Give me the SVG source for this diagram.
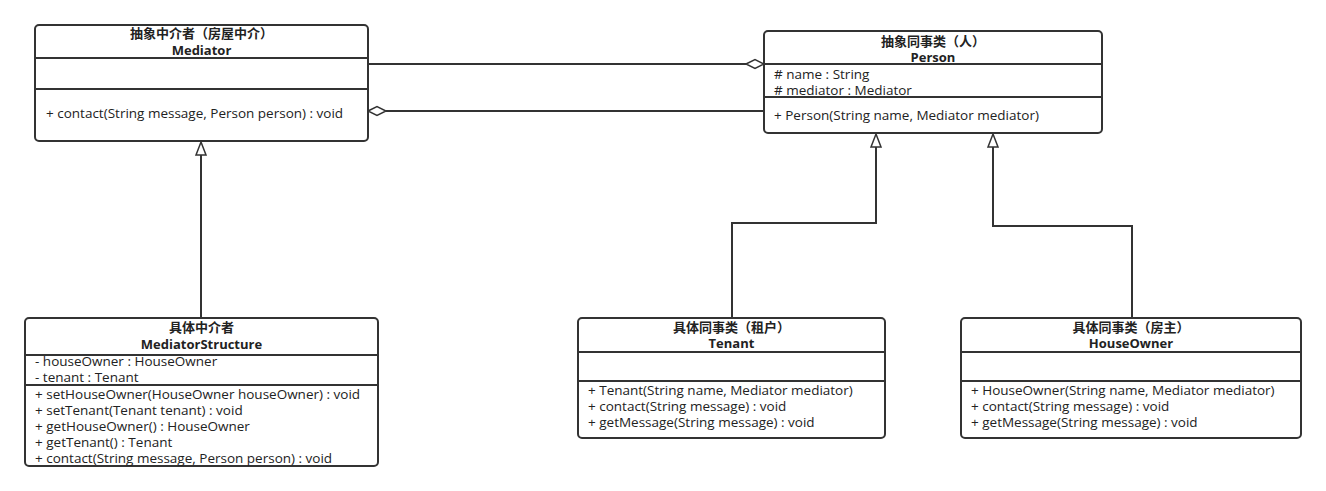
<svg xmlns="http://www.w3.org/2000/svg" width="1326" height="491" viewBox="0 0 1326 491">
<style>
.box{fill:#fff;stroke:#333;stroke-width:2}
.sep{stroke:#333;stroke-width:2}
.t{font-family:"Open Sans","Noto Sans CJK SC",sans-serif;font-size:13.5px;fill:#222}
.b{font-family:"Open Sans","Noto Sans CJK SC",sans-serif;font-size:13px;font-weight:bold;fill:#222;text-anchor:middle}
.c{font-family:"Noto Sans CJK SC",sans-serif;font-size:13px;font-weight:bold;fill:#222;text-anchor:middle}
.ln{fill:none;stroke:#333;stroke-width:2}
.hd{fill:#fff;stroke:#333;stroke-width:1.5}
</style>
<rect width="1326" height="491" fill="#fff"/>
<g id="connectors">
<line class="ln" x1="365" y1="64" x2="746" y2="64"/>
<path class="hd" d="M746,64 L755,59.5 L764,64 L755,68.5 Z"/>
<line class="ln" x1="386" y1="111" x2="764" y2="111"/>
<path class="hd" d="M368,111 L377,106.5 L386,111 L377,115.5 Z"/>
<path class="ln" d="M201,318 L201,155"/>
<path class="hd" d="M201,142 L206,155 L196,155 Z"/>
<path class="ln" d="M732,318 L732,223 L876,223 L876,147"/>
<path class="hd" d="M876,134 L881,147 L871,147 Z"/>
<path class="ln" d="M1132,318 L1132,226 L993,226 L993,147"/>
<path class="hd" d="M993,134 L998,147 L988,147 Z"/>
</g>
<g id="mediator">
<rect class="box" x="35" y="25" width="333" height="116" rx="4"/>
<line class="sep" x1="35" y1="58" x2="368" y2="58"/>
<line class="sep" x1="35" y1="89" x2="368" y2="89"/>
<text class="c" x="201.5" y="38">抽象中介者（房屋中介）</text>
<text class="b" x="201.5" y="55">Mediator</text>
<text class="t" x="46" y="118">+ contact(String message, Person person) : void</text>
</g>
<g id="person">
<rect class="box" x="764" y="31" width="338" height="102" rx="4"/>
<line class="sep" x1="764" y1="64" x2="1102" y2="64"/>
<line class="sep" x1="764" y1="97" x2="1102" y2="97"/>
<text class="c" x="933" y="46">抽象同事类（人）</text>
<text class="b" x="933" y="62">Person</text>
<text class="t" x="774" y="79"># name : String</text>
<text class="t" x="774" y="95"># mediator : Mediator</text>
<text class="t" x="774" y="120">+ Person(String name, Mediator mediator)</text>
</g>
<g id="mediatorStructure">
<rect class="box" x="25" y="318" width="353" height="148" rx="4"/>
<line class="sep" x1="25" y1="355" x2="378" y2="355"/>
<line class="sep" x1="25" y1="385" x2="378" y2="385"/>
<text class="c" x="201.5" y="332">具体中介者</text>
<text class="b" x="201.5" y="349">MediatorStructure</text>
<text class="t" x="35" y="366">- houseOwner : HouseOwner</text>
<text class="t" x="35" y="382">- tenant : Tenant</text>
<text class="t" x="35" y="399">+ setHouseOwner(HouseOwner houseOwner) : void</text>
<text class="t" x="35" y="415">+ setTenant(Tenant tenant) : void</text>
<text class="t" x="35" y="431">+ getHouseOwner() : HouseOwner</text>
<text class="t" x="35" y="447">+ getTenant() : Tenant</text>
<text class="t" x="35" y="463">+ contact(String message, Person person) : void</text>
</g>
<g id="tenant">
<rect class="box" x="578" y="318" width="307" height="120" rx="4"/>
<line class="sep" x1="578" y1="352" x2="885" y2="352"/>
<line class="sep" x1="578" y1="381" x2="885" y2="381"/>
<text class="c" x="731.5" y="332">具体同事类（租户）</text>
<text class="b" x="731.5" y="348">Tenant</text>
<text class="t" x="588" y="395">+ Tenant(String name, Mediator mediator)</text>
<text class="t" x="588" y="411">+ contact(String message) : void</text>
<text class="t" x="588" y="427">+ getMessage(String message) : void</text>
</g>
<g id="houseOwner">
<rect class="box" x="961" y="318" width="340" height="120" rx="4"/>
<line class="sep" x1="961" y1="352" x2="1301" y2="352"/>
<line class="sep" x1="961" y1="381" x2="1301" y2="381"/>
<text class="c" x="1131" y="332">具体同事类（房主）</text>
<text class="b" x="1131" y="348">HouseOwner</text>
<text class="t" x="971" y="395">+ HouseOwner(String name, Mediator mediator)</text>
<text class="t" x="971" y="411">+ contact(String message) : void</text>
<text class="t" x="971" y="427">+ getMessage(String message) : void</text>
</g>
</svg>
